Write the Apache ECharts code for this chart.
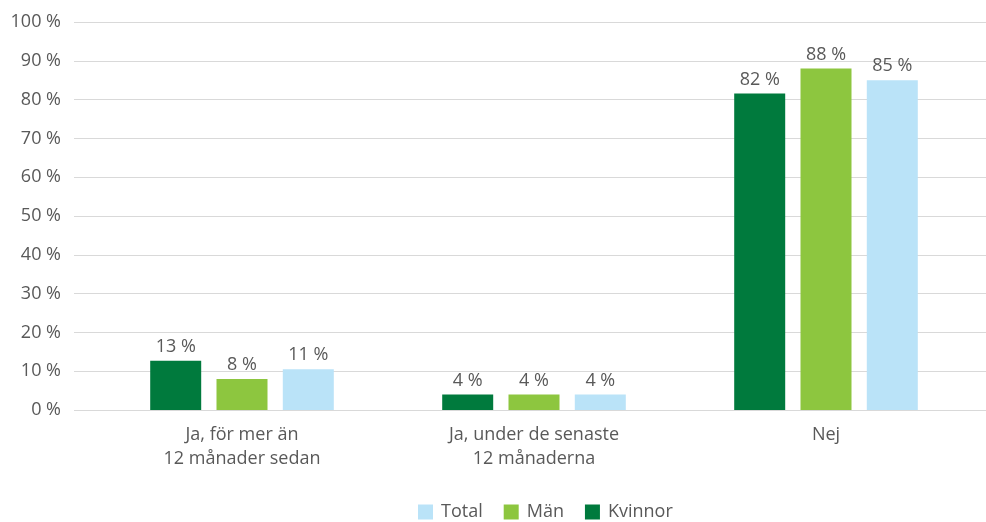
<!DOCTYPE html>
<html>
<head>
<meta charset="utf-8">
<title>ECharts</title>
<script src="https://cdn.jsdelivr.net/npm/echarts@6/dist/echarts.min.js"></script>
<style type="text/css">
    html, body { margin: 0; padding: 0; background: #fff; }
    #main { width: 986px; height: 522px; }
</style>
</head>
<body>
<div id="main"></div>
<script>
    // data
    var categories = ['Ja, för mer än\n12 månader sedan', 'Ja, under de senaste\n12 månaderna', 'Nej'];
    var kvinnor = [12.7, 4.0, 81.6];
    var man = [8.0, 4.0, 88.0];
    var total = [10.5, 4.0, 85.0];
    var yTicks = [0, 100, 10];

    var font = '"Open Sans", "Noto Sans", sans-serif';
    var textColor = '#595959';

    function barSeries(name, values, color) {
        return {
            name: name,
            type: 'bar',
            xAxisIndex: 1,
            yAxisIndex: 1,
            data: values,
            barWidth: 51,
            barGap: '30%',
            itemStyle: { color: color },
            label: {
                show: true,
                position: 'top',
                distance: 5,
                color: textColor,
                fontFamily: font,
                fontSize: 18,
                formatter: function (p) { return Math.round(p.value) + ' %'; }
            }
        };
    }

    var myChart = echarts.init(document.getElementById('main'));
    var option = {
        animation: false,
        legend: {
            data: ['Total', 'Män', 'Kvinnor'],
            padding: 0,
            bottom: 1,
            left: 418,
            itemWidth: 15,
            itemHeight: 15,
            itemGap: 21,
            icon: 'rect',
            textStyle: { color: textColor, fontFamily: font, fontSize: 18, padding: [0, 0, 0, 3] }
        },
        grid: [
            { left: 74, right: 0, top: 22, bottom: 112 },
            { left: 96, right: 14, top: 22, bottom: 112 }
        ],
        xAxis: [
            { gridIndex: 0, type: 'category', data: categories, show: false },
            {
                gridIndex: 1,
                type: 'category',
                data: categories,
                axisLine: { show: false },
                axisTick: { show: false },
                axisLabel: {
                    color: textColor,
                    fontFamily: font,
                    fontSize: 18,
                    lineHeight: 24,
                    margin: 13
                }
            }
        ],
        yAxis: [
            {
                gridIndex: 0,
                type: 'value',
                min: yTicks[0],
                max: yTicks[1],
                interval: yTicks[2],
                axisLine: { show: false },
                axisTick: { show: false },
                axisLabel: {
                    color: textColor,
                    fontFamily: font,
                    fontSize: 18,
                    margin: 13,
                    formatter: '{value} %'
                },
                splitLine: { lineStyle: { color: '#d9d9d9', width: 1 } }
            },
            {
                gridIndex: 1,
                type: 'value',
                min: yTicks[0],
                max: yTicks[1],
                interval: yTicks[2],
                show: false,
                splitLine: { show: false }
            }
        ],
        series: [
            barSeries('Kvinnor', kvinnor, '#007a3d'),
            barSeries('Män', man, '#8dc63f'),
            barSeries('Total', total, '#bae3f8')
        ]
    };
    myChart.setOption(option);
</script>
</body>
</html>
